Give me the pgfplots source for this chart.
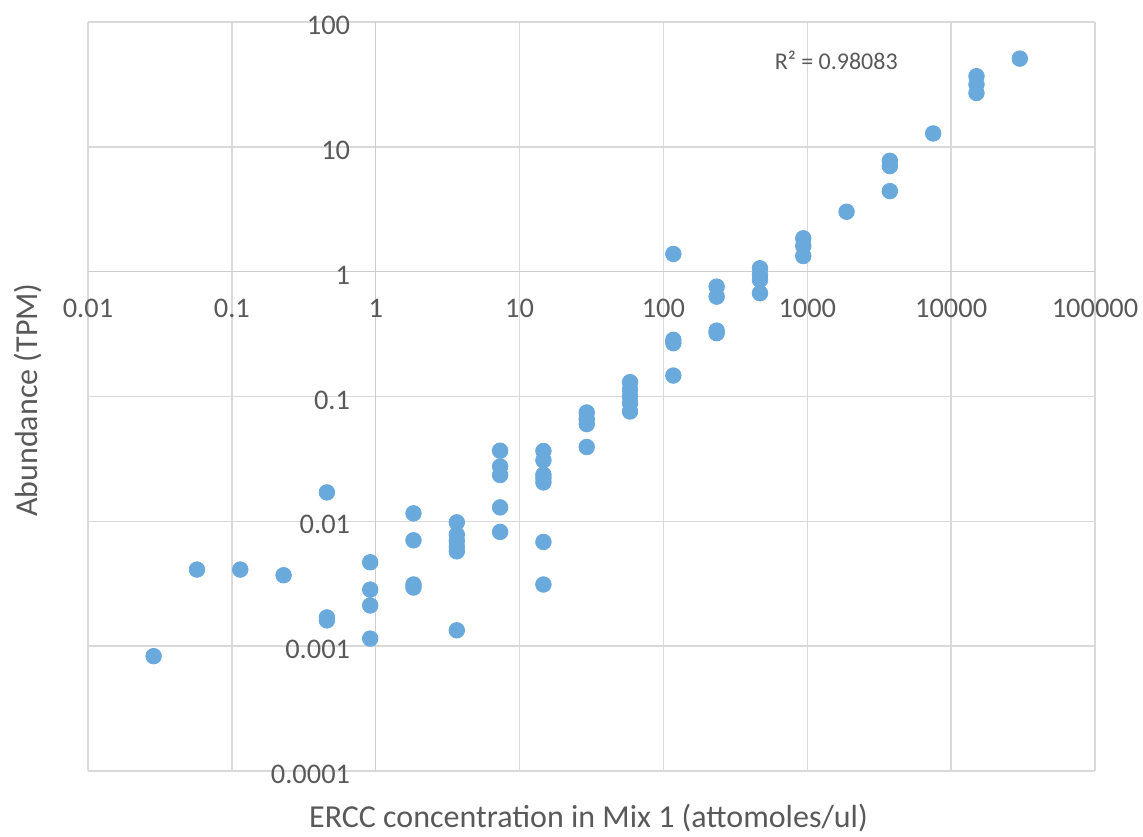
\documentclass[border=0pt]{standalone}
\usepackage{pgfplots}
\pgfplotsset{compat=1.18}
\usepackage{pgfplotstable}
\usepackage{fontspec}
\setmainfont{Carlito}
\definecolor{gridc}{HTML}{D9D9D9}
\definecolor{axisc}{HTML}{CDCDCD}
\definecolor{txt}{HTML}{595959}
\definecolor{dot}{RGB}{106,169,220}
\pgfplotstableread{
x y
0.0286 0.000832
0.0572 0.00411
0.1144 0.00411
0.2289 0.00370
0.4578 0.01706
0.4578 0.00170
0.4578 0.00161
0.9155 0.00470
0.9155 0.00284
0.9155 0.00212
0.9155 0.00115
1.831 0.01159
1.831 0.00705
1.831 0.00312
1.831 0.00295
3.662 0.00982
3.662 0.00783
3.662 0.00701
3.662 0.00628
3.662 0.00575
3.662 0.00134
7.324 0.0368
7.324 0.0275
7.324 0.0235
7.324 0.01294
7.324 0.00823
14.65 0.0366
14.65 0.0308
14.65 0.0236
14.65 0.0222
14.65 0.0205
14.65 0.00684
14.65 0.00312
29.30 0.0745
29.30 0.0659
29.30 0.0601
29.30 0.0394
58.59 0.1303
58.59 0.1132
58.59 0.1000
58.59 0.0885
58.59 0.0759
117.19 1.386
117.19 0.2843
117.19 0.2675
117.19 0.1472
234.4 0.759
234.4 0.631
234.4 0.3373
234.4 0.3215
468.75 1.065
468.75 0.941
468.75 0.858
468.75 0.672
937.5 1.85
937.5 1.606
937.5 1.335
1875 3.02
3750 7.73
3750 7.01
3750 4.42
7500 12.8
15000 36.8
15000 31.7
15000 27.0
30000 50.9
}\ercc
\begin{document}
\begin{tikzpicture}
\useasboundingbox (-44pt,-32.5pt) rectangle (527.5pt,385.5pt);
\begin{axis}[
  at={(0,0)}, anchor=south west,
  scale only axis,
  width=503.5pt, height=374.5pt,
  xmode=log, ymode=log,
  xmin=0.01, xmax=100000,
  ymin=0.0001, ymax=100,
  axis lines=middle,
  axis line style={draw=axisc, line width=0.7pt, -},
  hide obscured x ticks=false,
  hide obscured y ticks=false,
  xtick={0.01,0.1,1,10,100,1000,10000,100000},
  xticklabels={0.01,0.1,1,10,100,1000,10000,100000},
  ytick={0.0001,0.001,0.01,0.1,1,10,100},
  yticklabels={0.0001,0.001,0.01,0.1,1,10,100},
  minor tick num=0,
  major tick length=0pt,
  minor tick length=0pt,
  minor tick style={draw=none},
  major tick style={draw=none},
  xmajorgrids, ymajorgrids,
  xminorgrids=false, yminorgrids=false,
  major grid style={draw=gridc, line width=0.7pt},
  tick label style={font=\fontsize{14.2}{17}\selectfont, text=txt},
  xticklabel style={anchor=north, yshift=-10.3pt},
  yticklabel style={anchor=east, xshift=-9.3pt, yshift=-1.75pt},
  xlabel={ERCC concentration in Mix 1 (attomoles/ul)},
  ylabel={Abundance (TPM)},
  every axis x label/.style={at={(rel axis cs:0.5,0)}, anchor=center, yshift=-23.5pt, xshift=-1.5pt, font=\fontsize{16}{19}\selectfont, text=txt},
  every axis y label/.style={at={(rel axis cs:0,0.5)}, xshift=-30pt, yshift=-1.75pt, rotate=90, anchor=center, font=\fontsize{16}{19}\selectfont, text=txt},
  clip=false,
]
\addplot[only marks, mark=*, mark size=3.9pt, mark options={fill=dot, draw=dot}] table[x=x, y=y] {\ercc};
\node[font=\fontsize{12}{14}\selectfont, text=txt] at (axis cs:1589,49.4) {R² = 0.98083};
\end{axis}
\end{tikzpicture}
\end{document}
